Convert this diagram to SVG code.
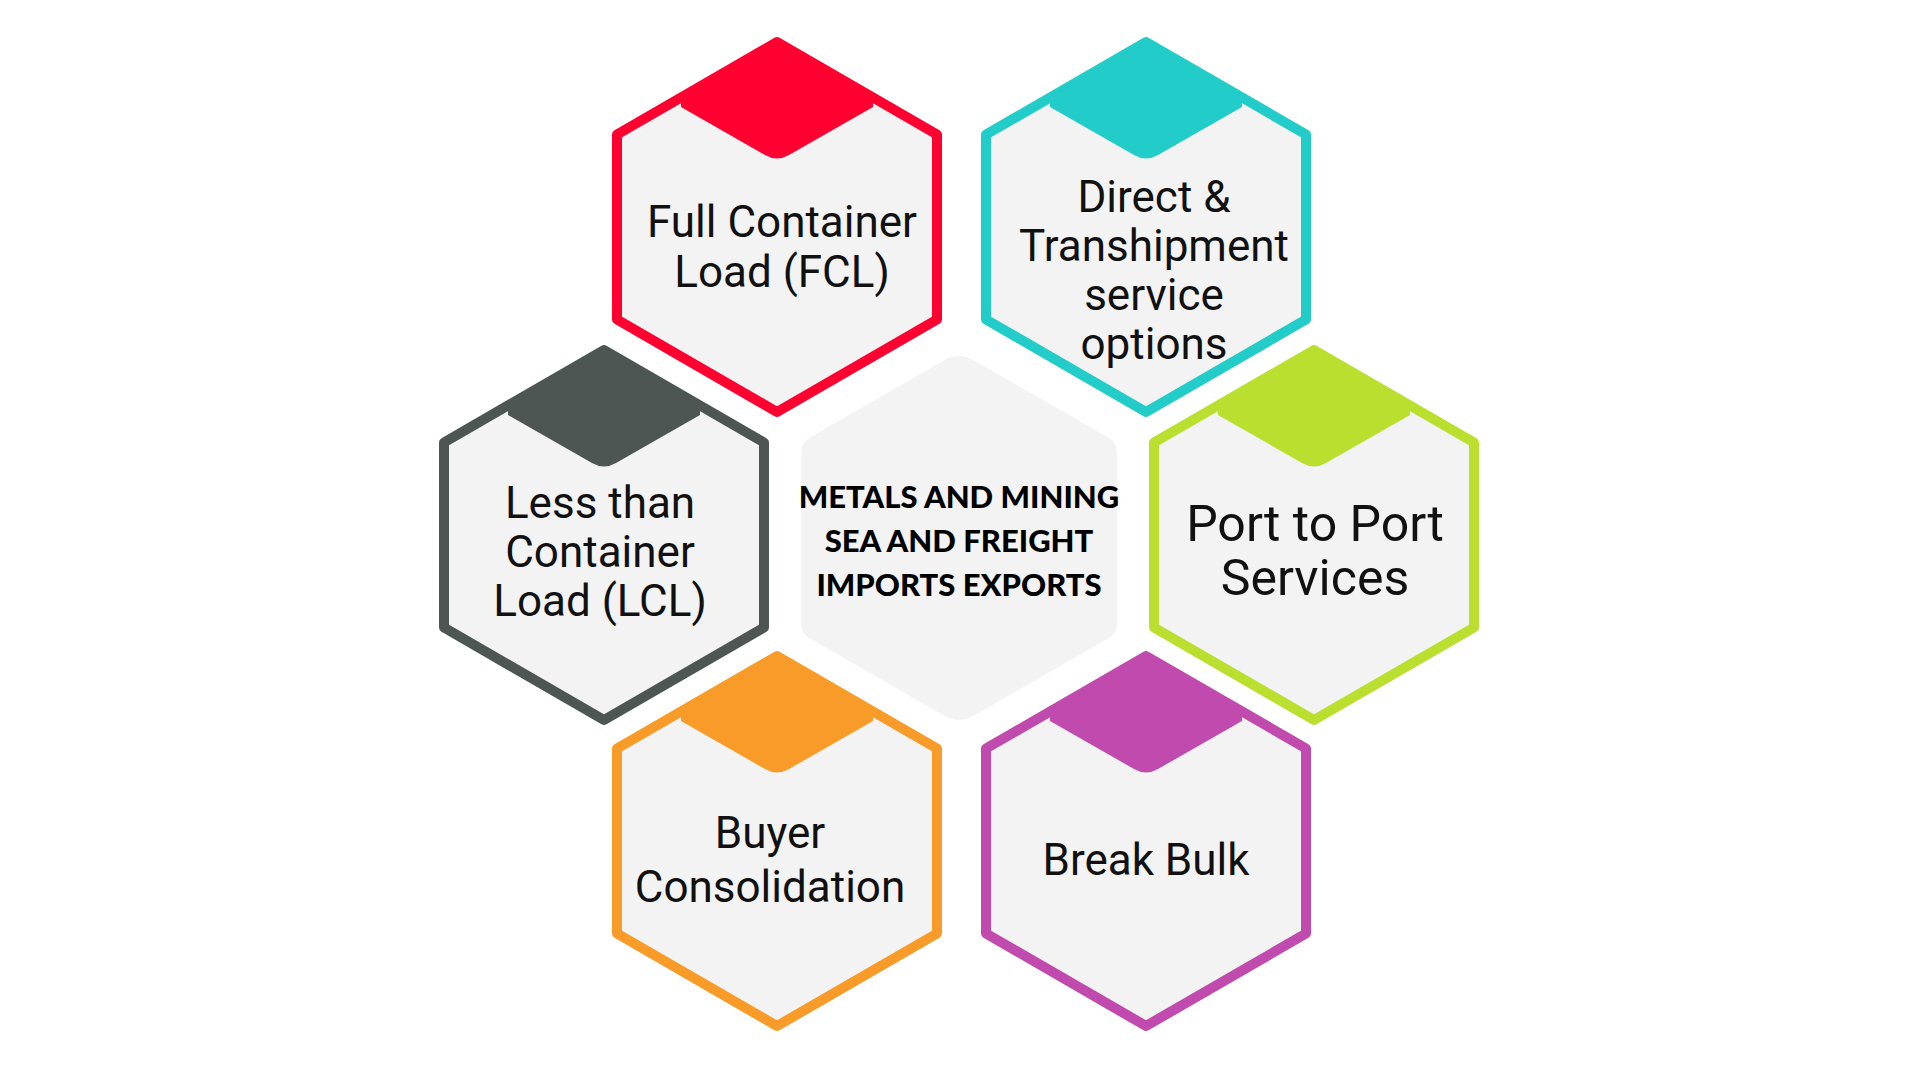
<svg xmlns="http://www.w3.org/2000/svg" width="1920" height="1078" viewBox="0 0 1920 1078">
<defs>
<style>
.hx{fill:#F3F3F3;stroke-width:10;stroke-linejoin:round}
.t{font-family:Roboto,"Liberation Sans",sans-serif;font-size:44px;fill:#111;text-anchor:middle}
.c{font-family:Lato,"Open Sans",sans-serif;font-weight:900;font-size:31px;fill:#000;text-anchor:middle}
</style>
<path id="hex" d="M0,-185 L160,-92.5 L160,92.5 L0,185 L-160,92.5 L-160,-92.5 Z"/>
<path id="cap" d="M-96,-130 L0,-185 L96,-130 L96,-120 L12,-72 Q0,-65 -12,-72 L-96,-120 Z"/>
</defs>
<rect width="1920" height="1078" fill="#fff"/>
<g id="center" transform="translate(959,538)"><path d="M0,-182 Q8,-182 16,-177 L150,-100 Q158,-95 158,-85 L158,85 Q158,95 150,100 L16,177 Q8,182 0,182 Q-8,182 -16,177 L-150,100 Q-158,95 -158,85 L-158,-85 Q-158,-95 -150,-100 L-16,-177 Q-8,-182 0,-182 Z" fill="#F3F3F3"/>
<text class="c" y="-30">METALS AND MINING</text><text class="c" y="14">SEA AND FREIGHT</text><text class="c" y="58">IMPORTS EXPORTS</text></g>
<g id="fcl" transform="translate(777,227)"><use href="#hex" class="hx" stroke="#FF0030"/><use href="#cap" fill="#FF0030"/>
<text class="t" x="5" y="10">Full Container</text><text class="t" x="5" y="60">Load (FCL)</text></g>
<g id="direct" transform="translate(1146,227)"><use href="#hex" class="hx" stroke="#22CCC8"/><use href="#cap" fill="#22CCC8"/>
<text class="t" x="8" y="-15">Direct &amp;</text><text class="t" x="8" y="34">Transhipment</text><text class="t" x="8" y="83">service</text><text class="t" x="8" y="132">options</text></g>
<g id="lcl" transform="translate(604,535)"><use href="#hex" class="hx" stroke="#4D5652"/><use href="#cap" fill="#4D5652"/>
<text class="t" x="-4" y="-17">Less than</text><text class="t" x="-4" y="32">Container</text><text class="t" x="-4" y="81">Load (LCL)</text></g>
<g id="port" transform="translate(1314,535)"><use href="#hex" class="hx" stroke="#BADF2F"/><use href="#cap" fill="#BADF2F"/>
<text class="t" style="font-size:50px" x="1" y="6">Port to Port</text><text class="t" style="font-size:50px" x="1" y="60">Services</text></g>
<g id="buyer" transform="translate(777,841)"><use href="#hex" class="hx" stroke="#F99B28"/><use href="#cap" fill="#F99B28"/>
<text class="t" x="-7" y="7">Buyer</text><text class="t" x="-7" y="61">Consolidation</text></g>
<g id="bulk" transform="translate(1146,841)"><use href="#hex" class="hx" stroke="#C04AAE"/><use href="#cap" fill="#C04AAE"/>
<text class="t" x="0" y="34">Break Bulk</text></g>
<g id="connectors"/>
</svg>
